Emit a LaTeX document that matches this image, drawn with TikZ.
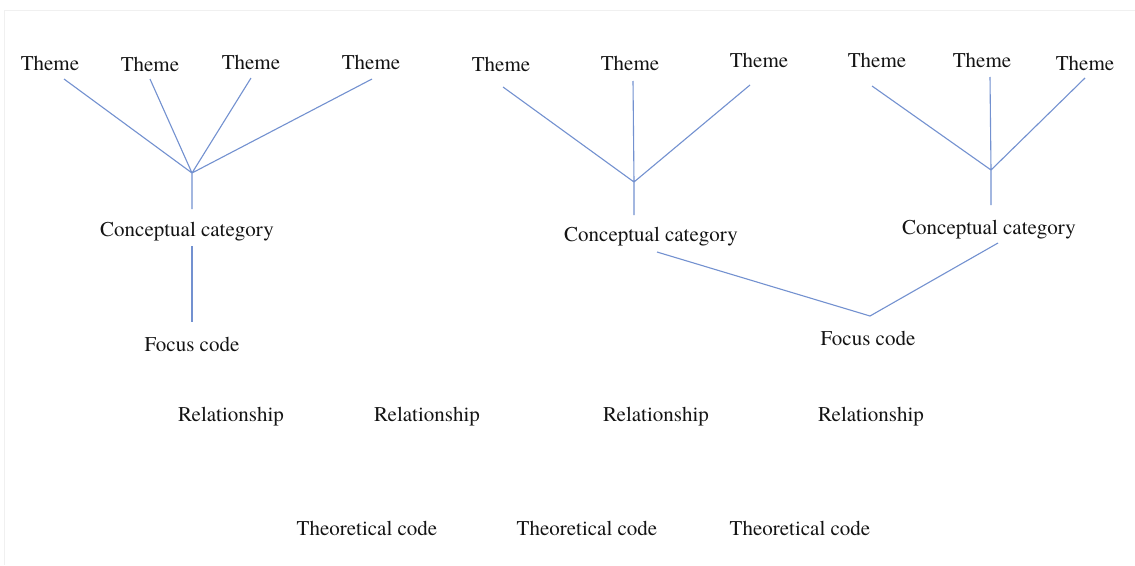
\documentclass[tikz,border=0pt]{standalone}
\usepackage{fontspec}
\setmainfont{texgyretermes-regular.otf}
\begin{document}
\begin{tikzpicture}[x=1pt,y=-1pt,
  lbl/.style={font=\fontsize{21}{24}\selectfont, inner sep=0pt, text=black!92, yshift=-2.5pt},
  link/.style={draw={rgb,255:red,115;green,145;blue,208}, line width=1.1pt}]
\useasboundingbox (0,0) rectangle (1135,565);
\fill[white] (0,0) rectangle (1135,565);
\draw[black!6, line width=0.8pt] (4,10) -- (1135,10) (4,10) -- (4,565);

% ---- left tree ----
\node[lbl] (lt1) at (50,61) {Theme};
\node[lbl] (lt2) at (150,62) {Theme};
\node[lbl] (lt3) at (251,60) {Theme};
\node[lbl] (lt4) at (371,60) {Theme};
\node[lbl] (lcc) at (187,229) {Conceptual category};
\node[lbl] (lfc) at (192,342) {Focus code};
\coordinate (lj) at (192,173);
\coordinate (la1) at (64,79);
\coordinate (la2) at (150,79);
\coordinate (la3) at (251,78);
\coordinate (la4) at (372,79);
\coordinate (lc) at (192,209);
\coordinate (lc2) at (192,246);
\coordinate (lf) at (192,322);
\draw[link] (la1) -- (lj) (la2) -- (lj) (la3) -- (lj) (la4) -- (lj) (lj) -- (lc);
\draw[link] (lc2) -- (lf);

% ---- middle tree ----
\node[lbl] (mt1) at (501,62) {Theme};
\node[lbl] (mt2) at (630,61) {Theme};
\node[lbl] (mt3) at (759,58) {Theme};
\node[lbl] (mcc) at (651,234) {Conceptual category};
\coordinate (mj) at (634,182);
\coordinate (ma1) at (503,87);
\coordinate (ma2) at (633,81);
\coordinate (ma3) at (750,85);
\coordinate (mc) at (634,215);
\draw[link] (ma1) -- (mj) (ma2) -- (mj) (ma3) -- (mj) (mj) -- (mc);

% ---- right tree ----
\node[lbl] (rt1) at (877,58) {Theme};
\node[lbl] (rt2) at (982,58) {Theme};
\node[lbl] (rt3) at (1085,61) {Theme};
\node[lbl] (rcc) at (989,227) {Conceptual category};
\coordinate (rj) at (991,170);
\coordinate (ra1) at (872,86);
\coordinate (ra2) at (990,77);
\coordinate (ra3) at (1085,78);
\coordinate (rc) at (991,205);
\draw[link] (ra1) -- (rj) (ra2) -- (rj) (ra3) -- (rj) (rj) -- (rc);

% ---- shared focus code ----
\node[lbl] (sfc) at (868,336) {Focus code};
\coordinate (sj) at (870,316);
\coordinate (mb) at (657,252);
\coordinate (rb) at (998,243);
\draw[link] (mb) -- (sj) -- (rb);

% ---- relationships ----
\node[lbl] (r1) at (231,414) {Relationship};
\node[lbl] (r2) at (427,414) {Relationship};
\node[lbl] (r3) at (656,414) {Relationship};
\node[lbl] (r4) at (871,414) {Relationship};

% ---- theoretical codes ----
\node[lbl] (c1) at (367,526) {Theoretical code};
\node[lbl] (c2) at (587,526) {Theoretical code};
\node[lbl] (c3) at (800,526) {Theoretical code};
\end{tikzpicture}
\end{document}
